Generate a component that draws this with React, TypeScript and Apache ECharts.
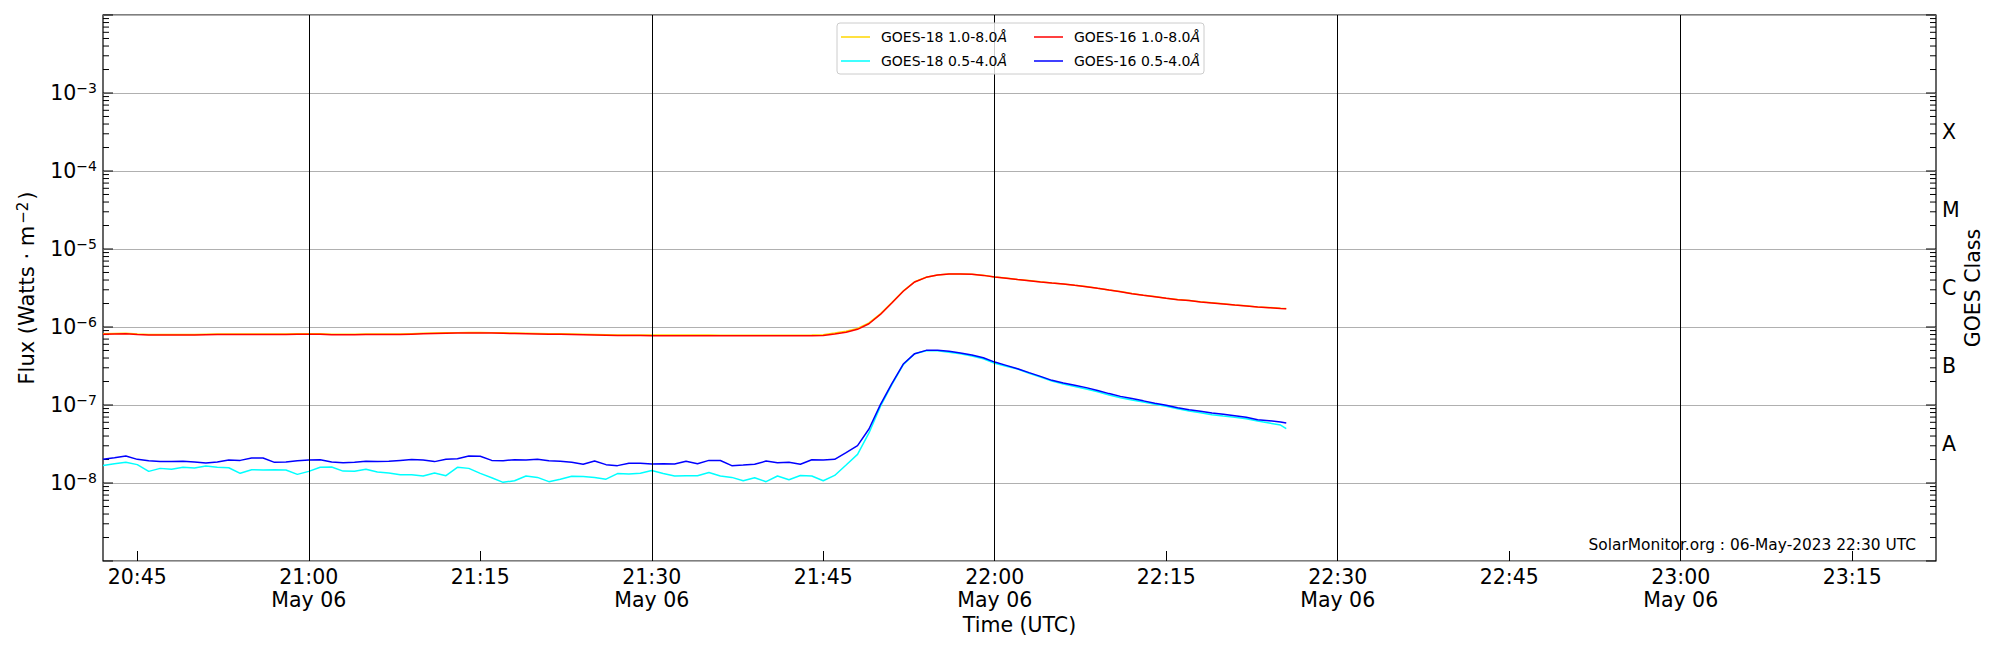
import React, { useEffect, useRef } from "react";
import * as echarts from "echarts";

const FONT = "DejaVu Sans";
const FS = 20.5;

// ---- time base (UTC) ----
const DAY_LABEL = "May 06";
const X_MIN = Date.UTC(2023, 4, 6, 20, 42, 0);
const X_MAX = Date.UTC(2023, 4, 6, 23, 22, 20);
// one sample per minute from 20:42, last partial sample at 22:25:30
const sampleOffsetsMin = Array.from({ length: 104 }, (_, i) => i).concat([103.5]);

const xTickLabels = ["20:45", "21:00", "21:15", "21:30", "21:45", "22:00", "22:15", "22:30", "22:45", "23:00", "23:15"];
const vLineLabels = ["21:00", "21:30", "22:00", "22:30", "23:00"];

// ---- series values (W m^-2) ----
const goes18Long = [
  8.22e-7, 8.27e-7, 8.32e-7, 8.12e-7, 8.02e-7, 8.02e-7, 8.02e-7, 8.02e-7, 8.02e-7, 8.07e-7,
  8.12e-7, 8.12e-7, 8.12e-7, 8.12e-7, 8.12e-7, 8.12e-7, 8.12e-7, 8.17e-7, 8.17e-7, 8.17e-7,
  8.07e-7, 8.07e-7, 8.07e-7, 8.12e-7, 8.12e-7, 8.12e-7, 8.12e-7, 8.22e-7, 8.32e-7, 8.37e-7,
  8.42e-7, 8.47e-7, 8.52e-7, 8.52e-7, 8.47e-7, 8.42e-7, 8.37e-7, 8.32e-7, 8.27e-7, 8.22e-7,
  8.17e-7, 8.12e-7, 8.07e-7, 8.02e-7, 7.97e-7, 7.92e-7, 7.92e-7, 7.92e-7, 7.87e-7, 7.87e-7,
  7.87e-7, 7.87e-7, 7.87e-7, 7.87e-7, 7.82e-7, 7.82e-7, 7.82e-7, 7.82e-7, 7.82e-7, 7.82e-7,
  7.82e-7, 7.82e-7, 7.87e-7, 7.95e-7, 8.35e-7, 8.80e-7, 9.60e-7, 1.13e-6, 1.48e-6, 2.06e-6,
  2.90e-6, 3.80e-6, 4.34e-6, 4.65e-6, 4.79e-6, 4.79e-6, 4.74e-6, 4.60e-6, 4.39e-6, 4.24e-6,
  4.07e-6, 3.94e-6, 3.79e-6, 3.67e-6, 3.57e-6, 3.43e-6, 3.30e-6, 3.14e-6, 2.99e-6, 2.85e-6,
  2.68e-6, 2.56e-6, 2.46e-6, 2.34e-6, 2.25e-6, 2.19e-6, 2.10e-6, 2.04e-6, 1.98e-6, 1.92e-6,
  1.87e-6, 1.81e-6, 1.78e-6, 1.74e-6, 1.73e-6,
];
const goes18Short = [
  1.68e-8, 1.77e-8, 1.84e-8, 1.72e-8, 1.41e-8, 1.54e-8, 1.50e-8, 1.59e-8, 1.56e-8, 1.65e-8,
  1.59e-8, 1.57e-8, 1.33e-8, 1.48e-8, 1.47e-8, 1.48e-8, 1.47e-8, 1.29e-8, 1.41e-8, 1.59e-8,
  1.60e-8, 1.42e-8, 1.41e-8, 1.50e-8, 1.38e-8, 1.34e-8, 1.28e-8, 1.28e-8, 1.23e-8, 1.34e-8,
  1.24e-8, 1.59e-8, 1.54e-8, 1.33e-8, 1.17e-8, 1.02e-8, 1.07e-8, 1.23e-8, 1.18e-8, 1.04e-8,
  1.12e-8, 1.22e-8, 1.21e-8, 1.18e-8, 1.12e-8, 1.32e-8, 1.30e-8, 1.33e-8, 1.45e-8, 1.32e-8,
  1.23e-8, 1.24e-8, 1.24e-8, 1.36e-8, 1.23e-8, 1.18e-8, 1.07e-8, 1.17e-8, 1.04e-8, 1.23e-8,
  1.10e-8, 1.25e-8, 1.23e-8, 1.07e-8, 1.25e-8, 1.70e-8, 2.33e-8, 4.38e-8, 9.61e-8, 1.82e-7,
  3.29e-7, 4.55e-7, 4.97e-7, 4.97e-7, 4.73e-7, 4.55e-7, 4.25e-7, 3.92e-7, 3.42e-7, 3.13e-7,
  2.89e-7, 2.55e-7, 2.28e-7, 2.03e-7, 1.86e-7, 1.73e-7, 1.60e-7, 1.48e-7, 1.34e-7, 1.24e-7,
  1.16e-7, 1.09e-7, 1.02e-7, 9.61e-8, 8.97e-8, 8.38e-8, 7.97e-8, 7.52e-8, 7.22e-8, 6.95e-8,
  6.68e-8, 6.24e-8, 5.88e-8, 5.54e-8, 4.97e-8,
];
const goes16Long = [
  8.10e-7, 8.15e-7, 8.20e-7, 8.00e-7, 7.90e-7, 7.90e-7, 7.90e-7, 7.90e-7, 7.90e-7, 7.95e-7,
  8.00e-7, 8.00e-7, 8.00e-7, 8.00e-7, 8.00e-7, 8.00e-7, 8.00e-7, 8.05e-7, 8.05e-7, 8.05e-7,
  7.95e-7, 7.95e-7, 7.95e-7, 8.00e-7, 8.00e-7, 8.00e-7, 8.00e-7, 8.10e-7, 8.20e-7, 8.25e-7,
  8.30e-7, 8.35e-7, 8.40e-7, 8.40e-7, 8.35e-7, 8.30e-7, 8.25e-7, 8.20e-7, 8.15e-7, 8.10e-7,
  8.05e-7, 8.00e-7, 7.95e-7, 7.90e-7, 7.85e-7, 7.80e-7, 7.80e-7, 7.80e-7, 7.75e-7, 7.75e-7,
  7.75e-7, 7.75e-7, 7.75e-7, 7.75e-7, 7.70e-7, 7.70e-7, 7.70e-7, 7.70e-7, 7.70e-7, 7.70e-7,
  7.70e-7, 7.70e-7, 7.75e-7, 7.80e-7, 8.13e-7, 8.55e-7, 9.33e-7, 1.10e-6, 1.45e-6, 2.03e-6,
  2.87e-6, 3.78e-6, 4.33e-6, 4.64e-6, 4.78e-6, 4.78e-6, 4.73e-6, 4.59e-6, 4.38e-6, 4.23e-6,
  4.06e-6, 3.93e-6, 3.78e-6, 3.66e-6, 3.56e-6, 3.42e-6, 3.29e-6, 3.13e-6, 2.98e-6, 2.84e-6,
  2.67e-6, 2.55e-6, 2.45e-6, 2.33e-6, 2.24e-6, 2.18e-6, 2.09e-6, 2.03e-6, 1.97e-6, 1.91e-6,
  1.86e-6, 1.80e-6, 1.77e-6, 1.73e-6, 1.72e-6,
];
const goes16Short = [
  2.01e-8, 2.11e-8, 2.22e-8, 2.01e-8, 1.93e-8, 1.88e-8, 1.88e-8, 1.90e-8, 1.86e-8, 1.80e-8,
  1.86e-8, 1.97e-8, 1.95e-8, 2.09e-8, 2.09e-8, 1.84e-8, 1.86e-8, 1.93e-8, 1.97e-8, 1.99e-8,
  1.86e-8, 1.82e-8, 1.84e-8, 1.90e-8, 1.88e-8, 1.90e-8, 1.95e-8, 2.00e-8, 1.97e-8, 1.88e-8,
  2.01e-8, 2.05e-8, 2.22e-8, 2.20e-8, 1.95e-8, 1.93e-8, 1.99e-8, 1.97e-8, 2.01e-8, 1.93e-8,
  1.90e-8, 1.84e-8, 1.74e-8, 1.91e-8, 1.72e-8, 1.67e-8, 1.79e-8, 1.79e-8, 1.75e-8, 1.77e-8,
  1.75e-8, 1.90e-8, 1.77e-8, 1.95e-8, 1.94e-8, 1.67e-8, 1.70e-8, 1.74e-8, 1.91e-8, 1.82e-8,
  1.84e-8, 1.74e-8, 1.99e-8, 1.97e-8, 2.01e-8, 2.45e-8, 3.01e-8, 4.92e-8, 1.01e-7, 1.88e-7,
  3.35e-7, 4.55e-7, 5.02e-7, 5.02e-7, 4.88e-7, 4.64e-7, 4.38e-7, 4.04e-7, 3.55e-7, 3.22e-7,
  2.92e-7, 2.60e-7, 2.33e-7, 2.07e-7, 1.91e-7, 1.79e-7, 1.67e-7, 1.53e-7, 1.40e-7, 1.29e-7,
  1.21e-7, 1.13e-7, 1.05e-7, 9.90e-8, 9.25e-8, 8.71e-8, 8.30e-8, 7.89e-8, 7.59e-8, 7.30e-8,
  6.95e-8, 6.48e-8, 6.30e-8, 6.05e-8, 5.88e-8,
];

const seriesNames = ["GOES-18 1.0-8.0Å", "GOES-18 0.5-4.0Å", "GOES-16 1.0-8.0Å", "GOES-16 0.5-4.0Å"];
const seriesColors = ["#FFD700", "#00FFFF", "#FF0000", "#0000FF"];
const seriesValues = [goes18Long, goes18Short, goes16Long, goes16Short];

// ---- axes ----
const Y_MIN = 1e-9;
const Y_MAX = 1e-2;
const labelledExponents = [-8, -7, -6, -5, -4, -3];
const goesClasses = ["A", "B", "C", "M", "X"]; // half-way through decades 1e-8 .. 1e-3
const decadeExponents = [-9, -8, -7, -6, -5, -4, -3, -2];
const minorMultipliers = [2, 3, 4, 5, 6, 7, 8, 9];

const footerText = "SolarMonitor.org : 06-May-2023 22:30 UTC";

function hhmmToUtc(s: string) {
  const [h, m] = s.split(":").map(Number);
  return Date.UTC(2023, 4, 6, h, m, 0);
}
const pad2 = (n: number) => (n < 10 ? "0" + n : "" + n);

export default function App() {
  const ref = useRef<HTMLDivElement>(null);
  useEffect(() => {
    document.body.style.margin = "0";
    if (!ref.current) return;
    const chart = echarts.init(ref.current, undefined, { renderer: "svg" });

    const times = sampleOffsetsMin.map((m) => X_MIN + m * 60000);
    const xTicks = xTickLabels.map(hhmmToUtc);
    const vLines = vLineLabels.map(hhmmToUtc);

    // y tick marks drawn on both sides of the frame
    const yTickData: number[][] = [];
    decadeExponents.forEach((e) => {
      yTickData.push([X_MIN, Math.pow(10, e), 1]);
      if (e < -2) minorMultipliers.forEach((k) => yTickData.push([X_MIN, k * Math.pow(10, e), 0]));
    });

    const classMap: Record<string, string> = {};
    goesClasses.forEach((c, i) => (classMap[String(-7.5 + i)] = c));

    const lineSeries = seriesNames.map((name, i) => ({
      name,
      type: "line",
      color: seriesColors[i],
      showSymbol: false,
      symbol: "none",
      lineStyle: { width: 1.5, color: seriesColors[i] },
      data: times.map((t, j) => [t, seriesValues[i][j]]),
      markLine:
        i === 0
          ? {
              silent: true,
              symbol: "none",
              label: { show: false },
              lineStyle: { color: "#000", width: 1, type: "solid" },
              data: vLines.map((t) => ({ xAxis: t })),
            }
          : undefined,
    }));

    const legendBase = {
      orient: "vertical",
      top: 30,
      itemWidth: 29,
      itemHeight: 1.5,
      itemGap: 10,
      padding: 0,
      icon: "rect",
      z: 60,
      formatter: (name: string) => `{n|${name.replace("Å", "")}}{i|Å}`,
      textStyle: {
        fontFamily: FONT,
        fontSize: 14,
        lineHeight: 14,
        color: "#000",
        rich: {
          n: { fontFamily: FONT, fontSize: 14, padding: [0, 0, 0, 6], color: "#000" },
          i: { fontFamily: FONT, fontSize: 14, fontStyle: "italic", color: "#000" },
        },
      },
    };

    chart.setOption({
      animation: false,
      backgroundColor: "#fff",
      grid: { left: 103, right: 64, top: 15, bottom: 89, show: true, borderColor: "#000", borderWidth: 1.2, backgroundColor: "transparent" },
      legend: [
        { ...legendBase, left: 841, data: [seriesNames[0], seriesNames[1]] },
        { ...legendBase, left: 1034, data: [seriesNames[2], seriesNames[3]] },
      ],
      xAxis: {
        type: "value",
        min: X_MIN,
        max: X_MAX,
        name: "Time (UTC)",
        nameLocation: "middle",
        nameGap: 53,
        nameMoveOverlap: false,
        nameTextStyle: { fontFamily: FONT, fontSize: FS, color: "#000" },
        axisLine: { show: false },
        splitLine: { show: false },
        axisTick: { show: true, inside: true, length: 10, customValues: xTicks, lineStyle: { color: "#000", width: 1 } },
        axisLabel: {
          customValues: xTicks,
          margin: 4,
          fontFamily: FONT,
          fontSize: FS,
          lineHeight: 23,
          color: "#000",
          formatter: (v: number) => {
            const d = new Date(v);
            const m = d.getUTCMinutes();
            const s = pad2(d.getUTCHours()) + ":" + pad2(m);
            return m % 30 === 0 ? s + "\n" + DAY_LABEL : s;
          },
        },
      },
      yAxis: [
        {
          type: "log",
          logBase: 10,
          min: Y_MIN,
          max: Y_MAX,
          name: "{a|Flux (Watts · m}{s|−2}{a|)}",
          nameLocation: "middle",
          nameGap: 64,
          nameRotate: 90,
          nameMoveOverlap: false,
          nameTextStyle: {
            rich: {
              a: { fontFamily: FONT, fontSize: 21, color: "#000", lineHeight: 24 },
              s: { fontFamily: FONT, fontSize: 15, color: "#000", verticalAlign: "top", lineHeight: 15, padding: [0, 2, 0, 2] },
            },
          },
          axisLine: { show: false },
          axisTick: { show: false },
          splitLine: { show: true, lineStyle: { color: "#b0b0b0", width: 1 } },
          axisLabel: {
            margin: 6,
            formatter: (v: number) => {
              const e = Math.round(Math.log10(v));
              if (labelledExponents.indexOf(e) < 0) return "";
              return `{b|10}{s|−${-e}}`;
            },
            rich: {
              b: { fontFamily: FONT, fontSize: FS, color: "#000", lineHeight: 24 },
              s: { fontFamily: FONT, fontSize: 14, color: "#000", verticalAlign: "top", lineHeight: 14 },
            },
          },
        },
        {
          type: "value",
          position: "right",
          min: -9,
          max: -2,
          interval: 0.5,
          name: "GOES Class",
          nameLocation: "middle",
          nameGap: 26,
          nameRotate: 90,
          nameMoveOverlap: false,
          nameTextStyle: { fontFamily: FONT, fontSize: FS, color: "#000" },
          axisLine: { show: false },
          axisTick: { show: false },
          splitLine: { show: false },
          axisLabel: {
            margin: 6,
            fontFamily: FONT,
            fontSize: FS,
            color: "#000",
            padding: [5, 0, 0, 0],
            formatter: (v: number) => classMap[String(v)] || "",
          },
        },
      ],
      series: [
        ...lineSeries,
        {
          type: "custom",
          name: "yticks",
          silent: true,
          xAxisIndex: 0,
          yAxisIndex: 0,
          encode: { x: 0, y: 1 },
          data: yTickData,
          renderItem: (params: any, api: any) => {
            const v = api.value(1);
            const major = api.value(2) === 1;
            const pL = api.coord([X_MIN, v]);
            const pR = api.coord([X_MAX, v]);
            const len = major ? 10 : 6;
            const st = { stroke: "#000", lineWidth: 1 };
            return {
              type: "group",
              children: [
                { type: "line", shape: { x1: pL[0], y1: pL[1], x2: pL[0] + len, y2: pL[1] }, style: st },
                { type: "line", shape: { x1: pR[0] - len, y1: pR[1], x2: pR[0], y2: pR[1] }, style: st },
              ],
            };
          },
          z: 3,
        },
      ],
      graphic: [
        {
          type: "rect",
          z: 50,
          shape: { x: 837, y: 23, width: 367, height: 51, r: 3 },
          style: { fill: "rgba(255,255,255,0.8)", stroke: "#cccccc", lineWidth: 1 },
        },
        {
          type: "text",
          right: 84,
          top: 537,
          z: 50,
          style: { text: footerText, fontFamily: FONT, fontSize: 15.4, fill: "#000" },
        },
      ],
    });
    return () => chart.dispose();
  }, []);
  return <div ref={ref} style={{ width: 2000, height: 650 }} />;
}
